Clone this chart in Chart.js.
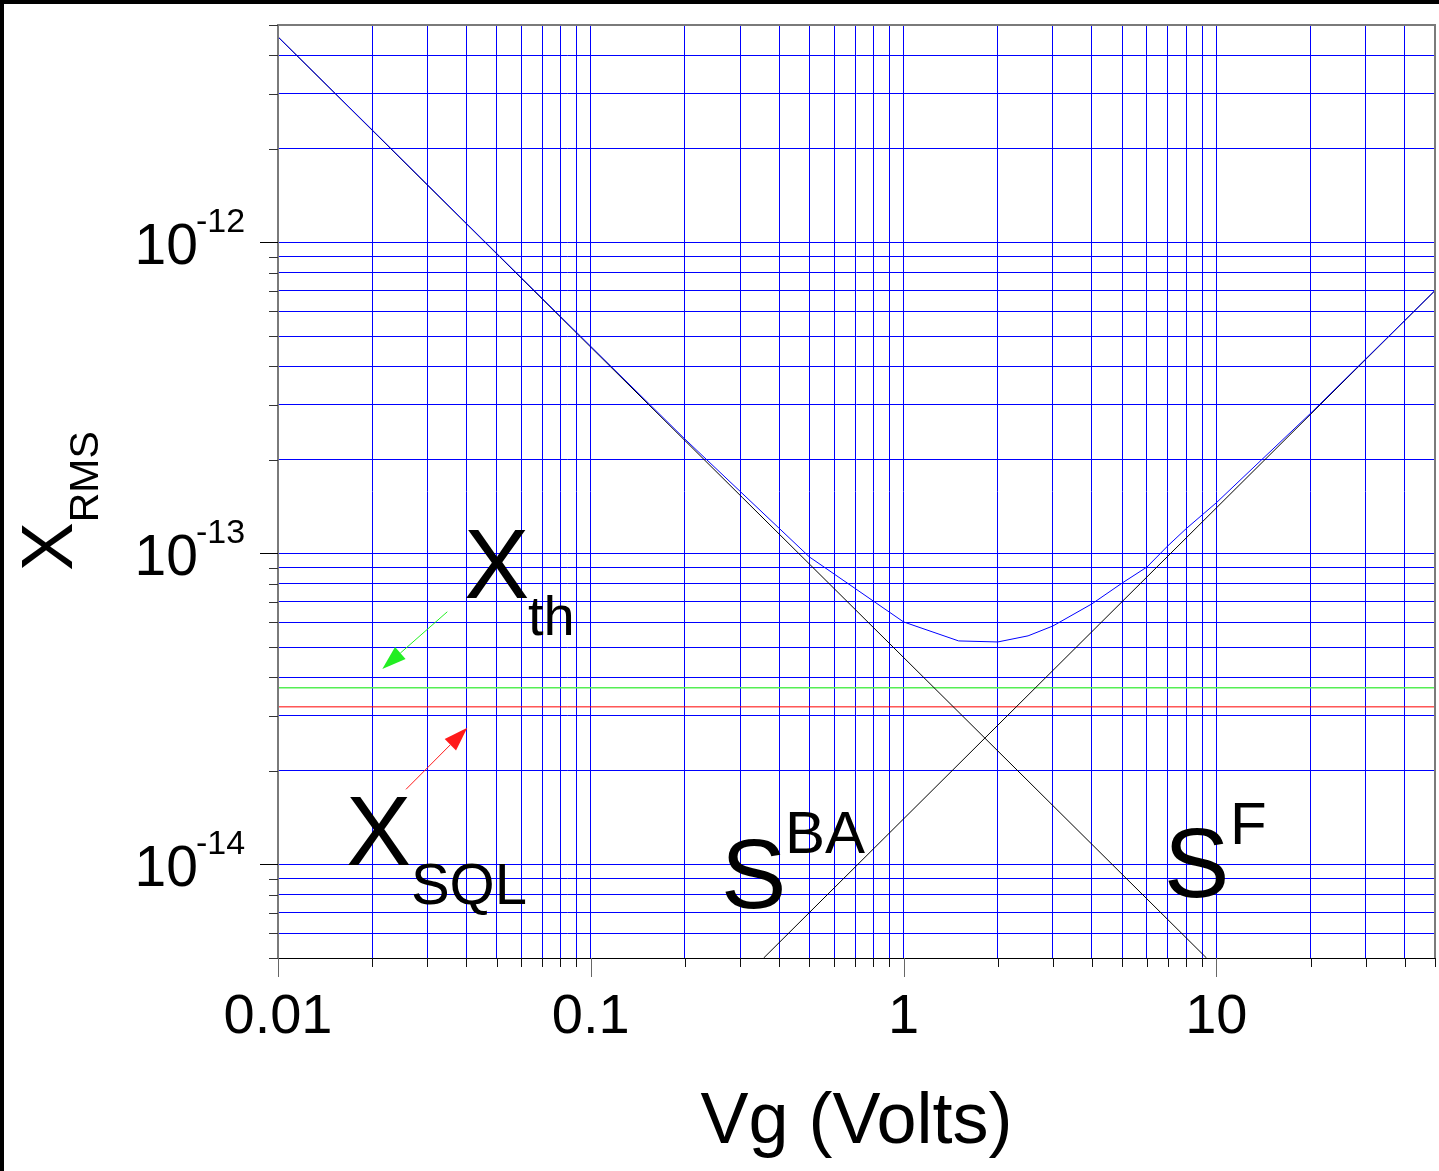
<!DOCTYPE html>
<html>
<head>
<meta charset="utf-8">
<title>X_RMS vs Vg</title>
<script src="https://cdn.jsdelivr.net/npm/chart.js@4.4.1/dist/chart.umd.min.js"></script>
<style>
  html, body { margin: 0; padding: 0; background: #fff; }
  canvas { display: block; }
</style>
</head>
<body>
<canvas id="myChart" width="1439" height="1171"></canvas>
<script>
var FONT = '"Liberation Sans", Arial, sans-serif';

// total displacement noise (blue curve)
var vgTotal = [0.01, 0.02, 0.05, 0.1, 0.2, 0.5, 1, 1.5, 2, 2.5, 3, 4, 5, 6, 7, 8, 10, 20, 50];
var xTotal = [4.58e-12, 2.30e-12, 9.22e-13, 4.63e-13, 2.33e-13, 9.74e-14, 6.02e-14, 5.23e-14, 5.19e-14,
              5.43e-14, 5.84e-14, 6.88e-14, 8.03e-14, 9.04e-14, 1.058e-13, 1.2e-13, 1.455e-13, 2.82e-13, 7.0e-13];

// back-action line S^BA and forward line S^F (black)
var vgBA = [0.01, 9.3];
var xBA = [4.58e-12, 5.0e-15];
var vgF = [0.357, 50];
var xF = [5.0e-15, 7.0e-13];

// horizontal levels: thermal (green) and SQL (red)
var vgRange = [0.01, 50];
var xThermal = [3.70e-14, 3.70e-14];
var xSQL = [3.21e-14, 3.21e-14];

// tick labels
var xTickValues = [0.01, 0.1, 1, 10];
var xTickLabels = ['0.01', '0.1', '1', '10'];
var yTickExponents = [-14, -13, -12];

function toPoints(xs, ys) {
    return xs.map(function (v, i) { return {x: v, y: ys[i]}; });
}

function logTicks(min, max) {
    var out = [];
    for (var e = Math.floor(Math.log10(min)); e <= Math.ceil(Math.log10(max)); e++) {
        for (var m = 1; m < 10; m++) {
            var v = parseFloat((m * Math.pow(10, e)).toPrecision(6));
            if (v >= min * 0.999 && v <= max * 1.001) out.push({value: v, major: m === 1});
        }
    }
    return out;
}

function lineSet(xs, ys, color, width) {
    return {
        data: toPoints(xs, ys),
        borderColor: color,
        borderWidth: width,
        pointRadius: 0,
        tension: 0,
        fill: false
    };
}

// annotation text, anchored in data coordinates
var notes = [
    {text: 'X', vg: 0.0393, x: 7.19e-14, size: 98},
    {text: 'th', vg: 0.0630, x: 5.47e-14, size: 56},
    {text: 'X', vg: 0.0165, x: 9.95e-15, size: 98},
    {text: 'SQL', vg: 0.0266, x: 7.46e-15, size: 58},
    {text: 'S', vg: 0.2607, x: 7.24e-15, size: 98},
    {text: 'BA', vg: 0.4177, x: 1.088e-14, size: 60},
    {text: 'S', vg: 6.80, x: 7.85e-15, size: 98},
    {text: 'F', vg: 11.05, x: 1.163e-14, size: 60}
];
var arrows = [
    {from: [0.03477, 6.49e-14], to: [0.02155, 4.25e-14], color: '#22ee22'},
    {from: [0.02566, 1.743e-14], to: [0.04029, 2.75e-14], color: '#ff1a1a'}
];

function drawArrow(ctx, x0, y0, x1, y1, color) {
    var a = Math.atan2(y1 - y0, x1 - x0), len = 24, hw = 8;
    var c = Math.cos(a), s = Math.sin(a);
    ctx.strokeStyle = color;
    ctx.fillStyle = color;
    ctx.lineWidth = 1;
    ctx.beginPath();
    ctx.moveTo(x0, y0);
    ctx.lineTo(x1 - len * c, y1 - len * s);
    ctx.stroke();
    ctx.beginPath();
    ctx.moveTo(x1, y1);
    ctx.lineTo(x1 - len * c - hw * s, y1 - len * s + hw * c);
    ctx.lineTo(x1 - len * c + hw * s, y1 - len * s - hw * c);
    ctx.closePath();
    ctx.fill();
}

var decorations = {
    id: 'decorations',
    afterDraw: function (chart) {
        var ctx = chart.ctx, xs = chart.scales.x, ys = chart.scales.y, area = chart.chartArea;
        ctx.save();

        // frame
        ctx.lineWidth = 2;
        ctx.strokeStyle = '#7a7a7a';
        ctx.beginPath();
        ctx.moveTo(area.left, area.bottom);
        ctx.lineTo(area.left, area.top);
        ctx.lineTo(area.right, area.top);
        ctx.lineTo(area.right, area.bottom);
        ctx.stroke();
        ctx.lineWidth = 1;
        ctx.strokeStyle = '#000';
        ctx.beginPath();
        ctx.moveTo(area.left - 9, area.bottom + 0.5);
        ctx.lineTo(area.right, area.bottom + 0.5);
        ctx.stroke();

        // tick marks
        xs.ticks.forEach(function (t) {
            var px = Math.round(xs.getPixelForValue(t.value)) + 0.5;
            ctx.strokeStyle = t.major ? '#666' : '#111';
            ctx.beginPath();
            ctx.moveTo(px, area.bottom);
            ctx.lineTo(px, area.bottom + (t.major ? 19 : 9));
            ctx.stroke();
        });
        ys.ticks.forEach(function (t) {
            var py = Math.round(ys.getPixelForValue(t.value)) + 0.5;
            ctx.strokeStyle = t.major ? '#000' : '#333';
            ctx.beginPath();
            ctx.moveTo(area.left - (t.major ? 18 : 9), py);
            ctx.lineTo(area.left, py);
            ctx.stroke();
        });

        ctx.fillStyle = '#000';
        // x tick labels
        ctx.font = '56px ' + FONT;
        ctx.textAlign = 'center';
        ctx.textBaseline = 'alphabetic';
        xTickValues.forEach(function (v, i) {
            ctx.fillText(xTickLabels[i], xs.getPixelForValue(v), area.bottom + 75);
        });
        // y tick labels 10^n
        yTickExponents.forEach(function (e) {
            var py = ys.getPixelForValue(Math.pow(10, e));
            ctx.font = '57px ' + FONT;
            ctx.textAlign = 'right';
            ctx.fillText('10', 198, py + 21.5);
            ctx.font = '34px ' + FONT;
            ctx.textAlign = 'left';
            ctx.fillText(String(e), 196, py - 10);
        });

        // axis titles
        ctx.textAlign = 'center';
        ctx.font = '72px ' + FONT;
        ctx.fillText('Vg (Volts)', (area.left + area.right) / 2, 1143);

        ctx.save();
        ctx.translate(72, 571);
        ctx.rotate(-Math.PI / 2);
        ctx.textAlign = 'left';
        ctx.font = '73px ' + FONT;
        ctx.fillText('X', 0, 0);
        var w = ctx.measureText('X').width;
        ctx.font = '41px ' + FONT;
        ctx.fillText('RMS', w, 26);
        ctx.restore();

        // annotations
        ctx.textAlign = 'left';
        notes.forEach(function (n) {
            ctx.font = n.size + 'px ' + FONT;
            ctx.fillText(n.text, xs.getPixelForValue(n.vg), ys.getPixelForValue(n.x));
        });
        arrows.forEach(function (a) {
            drawArrow(ctx,
                xs.getPixelForValue(a.from[0]), ys.getPixelForValue(a.from[1]),
                xs.getPixelForValue(a.to[0]), ys.getPixelForValue(a.to[1]), a.color);
        });

        // page border (top and left)
        ctx.fillStyle = '#000';
        ctx.fillRect(0, 0, chart.width, 4);
        ctx.fillRect(0, 0, 4, chart.height);
        ctx.restore();
    }
};

var config = {
    type: 'line',
    data: {
        datasets: [
            lineSet(vgTotal, xTotal, '#0000ff', 1),
            lineSet(vgBA, xBA, '#000000', 1),
            lineSet(vgF, xF, '#000000', 1),
            lineSet(vgRange, xThermal, '#55ee55', 1.5),
            lineSet(vgRange, xSQL, '#ff0000', 1)
        ]
    },
    options: {
        responsive: false,
        animation: false,
        events: [],
        layout: { padding: { top: 25, right: 4, left: 0, bottom: 0 } },
        plugins: { legend: { display: false }, tooltip: { enabled: false } },
        scales: {
            x: {
                type: 'logarithmic', min: 0.01, max: 50,
                afterBuildTicks: function (s) { s.ticks = logTicks(0.01, 50); },
                afterFit: function (s) { s.height = 213; },
                grid: { color: '#0000ff', lineWidth: 1, drawTicks: false },
                border: { display: false },
                ticks: { display: false }
            },
            y: {
                type: 'logarithmic', min: 5e-15, max: 5e-12,
                afterBuildTicks: function (s) { s.ticks = logTicks(5e-15, 5e-12); },
                afterFit: function (s) { s.width = 278; },
                grid: { color: '#0000ff', lineWidth: 1, drawTicks: false },
                border: { display: false },
                ticks: { display: false }
            }
        }
    },
    plugins: [decorations]
};

window.myChart = new Chart(document.getElementById('myChart').getContext('2d'), config);
</script>
</body>
</html>
